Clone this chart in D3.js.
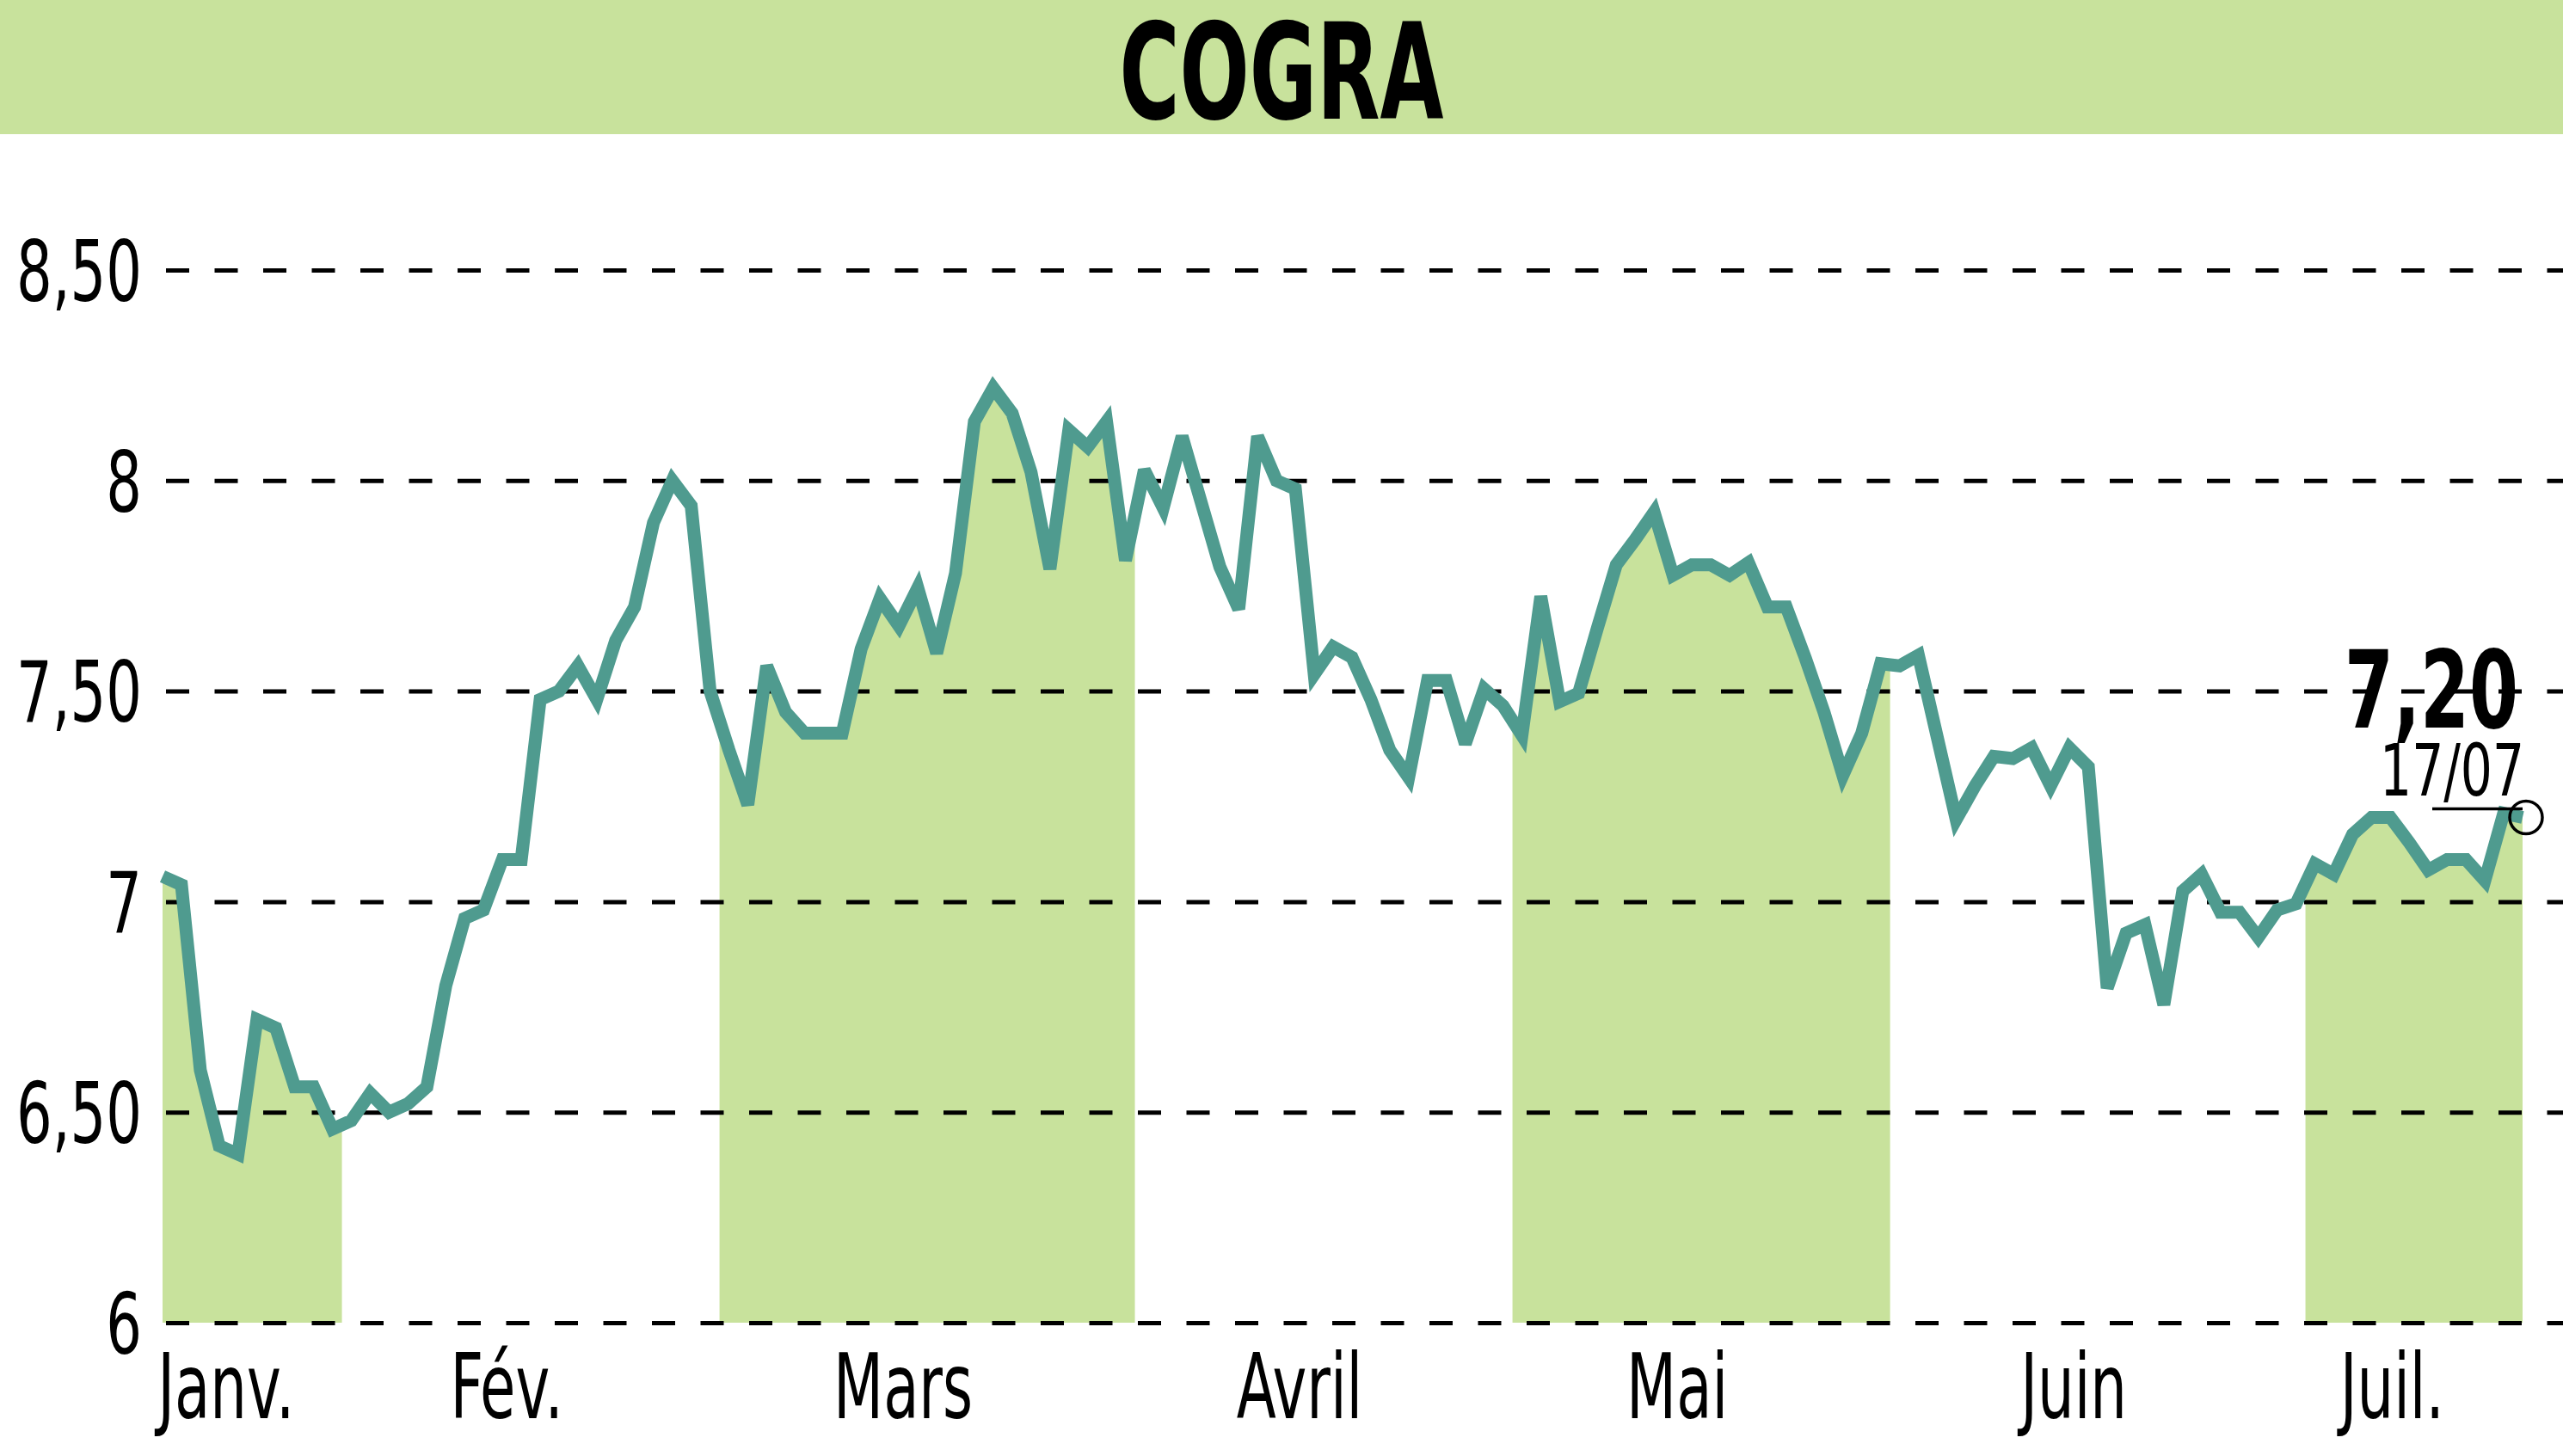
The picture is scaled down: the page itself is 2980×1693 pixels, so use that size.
<!DOCTYPE html>
<html>
<head>
<meta charset="utf-8">
<script src="https://cdn.jsdelivr.net/npm/d3@7"></script>
<style>
    body { margin: 0; background: #fff; }
    svg text { font-family: "Liberation Sans Narrow", "Arial Narrow", "DejaVu Sans Condensed", sans-serif; }
</style>
</head>
<body>
<div id="chart"></div>
<script>
var title = "COGRA";
var monthLabels = ["Janv.", "Fév.", "Mars", "Avril", "Mai", "Juin", "Juil."];
var monthCounts = [10, 20, 22, 20, 20, 22, 12];
var yTicks = [6, 6.5, 7, 7.5, 8, 8.5];
var yTickLabels = ["6", "6,50", "7", "7,50", "8", "8,50"];
var lastLabel = "7,20";
var lastDate = "17/07";

// daily closes
var janPrices = [7.06, 7.04, 6.60, 6.42, 6.40, 6.72, 6.70, 6.56, 6.56, 6.46];
var fevPrices = [6.48, 6.545, 6.50, 6.52, 6.56, 6.80, 6.96, 6.98, 7.10, 7.10,
                 7.48, 7.50, 7.56, 7.48, 7.62, 7.70, 7.90, 8.00, 7.94, 7.50];
var marPrices = [7.36, 7.23, 7.56, 7.45, 7.40, 7.40, 7.40, 7.60, 7.72, 7.655, 7.745,
                 7.59, 7.78, 8.14, 8.22, 8.16, 8.02, 7.79, 8.12, 8.08, 8.14, 7.81];
var avrPrices = [8.025, 7.935, 8.105, 7.95, 7.795, 7.695, 8.105, 8.00, 7.98, 7.54,
                 7.605, 7.58, 7.48, 7.36, 7.295, 7.525, 7.525, 7.375, 7.505, 7.465];
var maiPrices = [7.395, 7.725, 7.475, 7.495, 7.65, 7.80, 7.86, 7.925, 7.775, 7.80,
                 7.80, 7.775, 7.805, 7.70, 7.70, 7.58, 7.45, 7.30, 7.40, 7.565];
var juinPrices = [7.56, 7.585, 7.39, 7.195, 7.275, 7.345, 7.34, 7.365, 7.275, 7.365, 7.32,
                  6.795, 6.925, 6.945, 6.755, 7.025, 7.065, 6.975, 6.975, 6.915, 6.98, 6.995];
var juilPrices = [7.09, 7.065, 7.16, 7.20, 7.20, 7.14, 7.075, 7.10, 7.10, 7.05, 7.21, 7.20];

var prices = [].concat(janPrices, fevPrices, marPrices, avrPrices, maiPrices, juinPrices, juilPrices);

(function() {
    var W = 2980, H = 1693;
    var green = "#c8e29c", lineColor = "#4f9b8f";

    var svg = d3.select("#chart").append("svg")
        .attr("width", W)
        .attr("height", H);

    var x = d3.scaleLinear().domain([0, prices.length - 1]).range([189, 2933]);
    var y = d3.scaleLinear().domain([6, 8.5]).range([1538, 314]);

    // month ranges in point indexes
    var months = [];
    var start = 0;
    monthCounts.forEach(function(c, i) {
        months.push({label: monthLabels[i], s: start, e: start + c - 1, shaded: i % 2 === 0});
        start += c;
    });
    var xMin = x(0) - 5, xMax = x(prices.length - 1) + 5;
    function bandLeft(m) { return Math.max(x(m.s - 0.5), xMin); }
    function bandRight(m) { return Math.min(x(m.e + 0.5), xMax); }

    // title banner
    svg.append("rect")
        .attr("x", 0).attr("y", 0)
        .attr("width", W).attr("height", 156)
        .attr("fill", green);

    var titleText = svg.append("text")
        .attr("text-anchor", "middle")
        .attr("font-weight", "bold")
        .attr("font-size", 156)
        .text(title);

    // shaded months: area under the line clipped to month bands
    var clip = svg.append("defs").append("clipPath").attr("id", "bands");
    clip.selectAll("rect")
        .data(months.filter(function(m) { return m.shaded; }))
        .enter().append("rect")
        .attr("x", bandLeft)
        .attr("width", function(m) { return bandRight(m) - bandLeft(m); })
        .attr("y", 0)
        .attr("height", H);

    var area = d3.area()
        .x(function(d, i) { return x(i); })
        .y0(y(6))
        .y1(function(d) { return y(d); });

    svg.append("path")
        .datum(prices)
        .attr("clip-path", "url(#bands)")
        .attr("fill", green)
        .attr("d", area);

    // dashed grid
    var grid = svg.append("g")
        .attr("transform", "translate(193,0)")
        .call(d3.axisRight(y).tickValues(yTicks).tickSize(W - 193).tickFormat(""));
    grid.select(".domain").remove();
    grid.selectAll("line")
        .attr("stroke", "#000")
        .attr("stroke-width", 5)
        .attr("stroke-dasharray", "27,29.5");

    // y labels
    var yAxis = svg.append("g")
        .attr("transform", "translate(165,0)")
        .call(d3.axisLeft(y).tickValues(yTicks).tickSize(0).tickPadding(0)
            .tickFormat(function(d, i) { return yTickLabels[i]; }));
    yAxis.select(".domain").remove();
    yAxis.selectAll("text")
        .attr("font-size", 98)
        .attr("font-family", null)
        .attr("fill", "#000")
        .attr("dy", "0.36em");

    // price line
    var line = d3.line()
        .x(function(d, i) { return x(i); })
        .y(function(d) { return y(d); });

    svg.append("path")
        .datum(prices)
        .attr("fill", "none")
        .attr("stroke", lineColor)
        .attr("stroke-width", 15)
        .attr("stroke-linejoin", "miter")
        .attr("stroke-miterlimit", 3)
        .attr("d", line);

    // month labels
    var monthText = svg.selectAll(".month")
        .data(months)
        .enter().append("text")
        .attr("class", "month")
        .attr("text-anchor", "middle")
        .attr("font-size", 105)
        .text(function(m) { return m.label; });

    // last value annotation
    var n = prices.length - 1;
    var lx = x(n), ly = y(prices[n]);

    var lastText = svg.append("text")
        .attr("text-anchor", "end")
        .attr("font-weight", "bold")
        .attr("font-size", 124)
        .text(lastLabel);

    var dateText = svg.append("text")
        .attr("text-anchor", "end")
        .attr("font-size", 84)
        .text(lastDate);

    svg.append("line")
        .attr("x1", lx - 105).attr("x2", lx)
        .attr("y1", ly - 10).attr("y2", ly - 10)
        .attr("stroke", "#000")
        .attr("stroke-width", 3.5);

    svg.append("circle")
        .attr("cx", lx + 4).attr("cy", ly)
        .attr("r", 19)
        .attr("fill", "none")
        .attr("stroke", "#000")
        .attr("stroke-width", 3.5);

    // squeeze texts to the condensed look of the original
    function squeeze(sample, target) {
        var w = sample.node().getComputedTextLength();
        return w > 0 ? target / w : 1;
    }

    var sTitle = squeeze(titleText, 377);
    titleText.attr("transform", "translate(1490,138) scale(" + sTitle + ",1)");

    var sY = squeeze(yAxis.selectAll("text").filter(function(d) { return d === 8.5; }), 146);
    yAxis.selectAll("text").attr("transform", "scale(" + sY + ",1)");

    var sM = squeeze(monthText.filter(function(m) { return m.label === "Mars"; }), 162);
    monthText.attr("transform", function(m) {
        var cx = (bandLeft(m) + bandRight(m)) / 2 - 28;
        return "translate(" + cx + ",1649) scale(" + sM + ",1)";
    });

    var sL = squeeze(lastText, 202);
    lastText.attr("transform", "translate(" + (lx - 5) + "," + (ly - 104) + ") scale(" + sL + ",1)");

    var sD = squeeze(dateText, 168);
    dateText.attr("transform", "translate(" + (lx + 2) + "," + (ly - 25) + ") scale(" + sD + ",1)");
})();
</script>
</body>
</html>
